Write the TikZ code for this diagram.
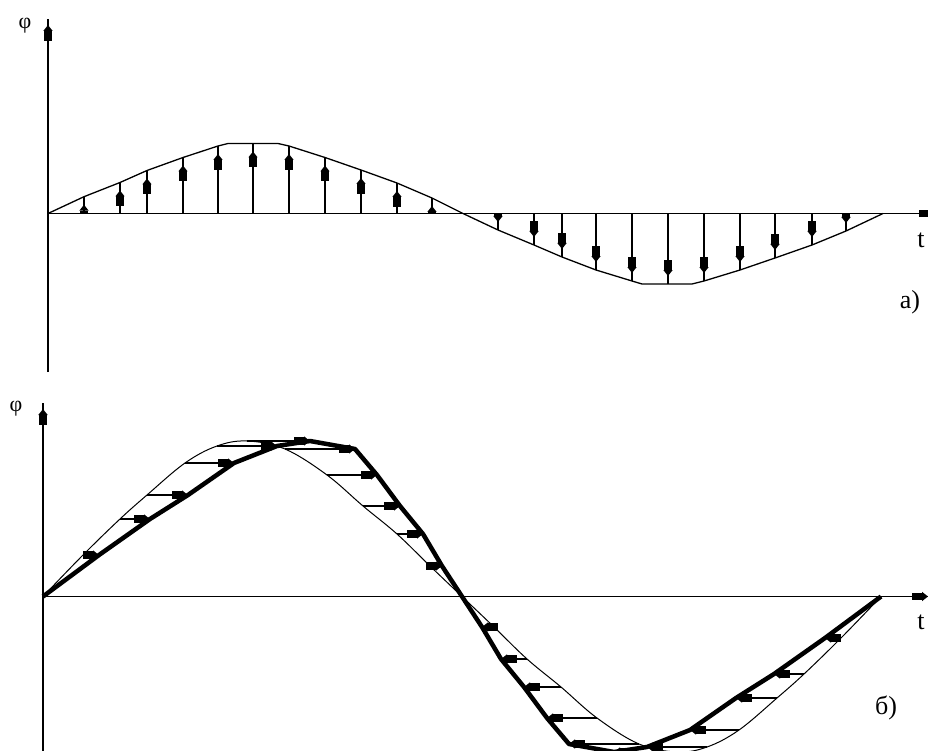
\documentclass[tikz,border=0pt]{standalone}
\usepackage{fontspec}
\setmainfont{Liberation Serif}
\usetikzlibrary{arrows.meta,decorations.markings}

\tikzset{
  vhead/.tip={Square[length=10pt,width=7.5pt,sep=0pt]Triangle[length=6pt,width=9pt,sep=0pt]},
  head at/.style={postaction={decorate},
    decoration={markings, mark=at position -#1 with {\arrow{vhead}}}}
}

\begin{document}
\begin{tikzpicture}[
    x=1pt, y=-1pt,
    axis/.style={line width=1.8pt},
    vec/.style={line width=1.4pt},
    wave/.style={line width=1.3pt, line join=round},
    thinwave/.style={line width=1pt},
    shifted/.style={line width=4.5pt, line join=round},
    lbl/.style={font=\fontsize{26}{30}\selectfont, inner sep=0pt},
    sym/.style={font=\fontsize{22}{26}\selectfont, inner sep=0pt}
  ]
  \useasboundingbox (0,0) rectangle (928,751);

  % --- a) ---
  \draw[axis, head at=6pt] (48,372) -- (48,19);
  \draw[axis, head at=10pt] (48,213.5) -- (945,213.5);
  \node[sym] (phia) at (25,26) {φ};
  \node[lbl] (ta) at (921,240) {t};
  \node[lbl] (laba) at (910,302) {а)};

  \draw[wave] (48,213.5)
    \foreach \x/\y in {84/196.7, 120/182.5, 147/170.5, 183/157.5, 218/146,
                       228/143.5, 278/143.5, 289/146, 325/157.5, 361/170,
                       397/183, 432/198, 463/213.5, 498/230, 534/245, 562/257,
                       596/270, 632/281, 642/284, 692/284, 704/281, 740/270,
                       775/258, 812/245, 846/231, 883/213.5} { -- (\x,\y) };

  \begin{scope}
    \clip (0,0) rectangle (928,213.5);
    \foreach \x/\y in {84/196.7, 120/182.5, 147/170.5, 183/157.5, 218/146, 253/143.5,
                       289/146, 325/157.5, 361/170, 397/183, 432/198}
      \draw[vec, head at=8pt] (\x,213.5) -- (\x,\y);
  \end{scope}
  \begin{scope}
    \clip (0,213.5) rectangle (928,400);
    \foreach \x/\y in {498/230, 534/245, 562/257, 596/270, 632/281, 668/284,
                       704/281, 740/270, 775/258, 812/245, 846/231}
      \draw[vec, head at=8pt] (\x,213.5) -- (\x,\y);
  \end{scope}

  % --- б) ---
  \draw[axis, head at=6pt] (43,760) -- (43,403);
  \draw[axis, head at=12pt] (43,596.5) -- (940,596.5);
  \node[sym] (phib) at (16,409) {φ};
  \node[lbl] (tb) at (921,622) {t};
  \node[lbl] (labb) at (886,708) {б)};

  \draw[thinwave] plot[smooth, tension=0.6] coordinates {
    (43,596.5) (83,555) (120,519) (147,495) (185,463) (217,446) (247,441)
    (285,449) (327,475) (363,506) (397,534) (430,566) (462,596.5)
    (494,627) (527,659) (561,687) (597,718) (639,744) (677,752) (707,747)
    (739,730) (777,698) (804,674) (841,638) (881,596.5)};

  \foreach \xt/\xk/\yy in {83/99/555, 120/150/519, 147/188/495, 185/234/463,
                           217/277/446, 247/310/441, 285/355/449, 327/377/475,
                           363/400/506, 397/423/534, 430/442/566} {
    \draw[vec, -{vhead}] (\xt,\yy) -- (\xk,\yy);
    \draw[vec, -{vhead}] ({924-\xt},{1193-\yy}) -- ({924-\xk},{1193-\yy});
  }

  \draw[shifted] (43,596.5) -- (99,555) -- (150,519) -- (188,495) -- (234,463)
    -- (277,446) -- (310,441) -- (355,449) -- (377,475) -- (400,506) -- (423,534)
    -- (442,566) -- (462,596.5) -- (482,627) -- (501,659) -- (524,687) -- (547,718)
    -- (569,744) -- (614,752) -- (647,747) -- (690,730) -- (736,698) -- (774,674)
    -- (825,638) -- (881,596.5);
\end{tikzpicture}
\end{document}
